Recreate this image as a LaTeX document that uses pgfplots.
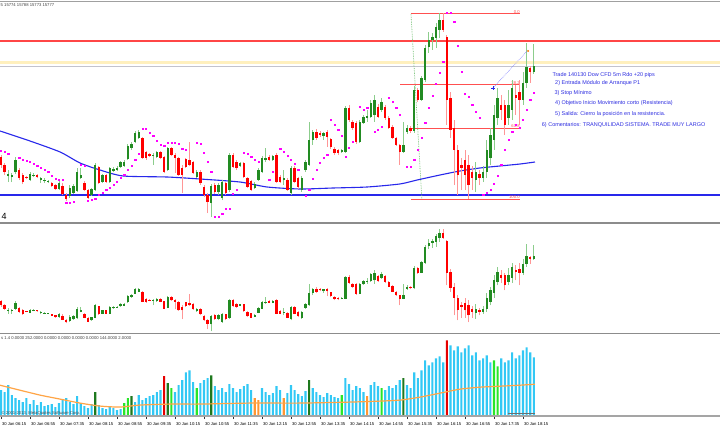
\documentclass[border=0pt]{standalone}
\usepackage{fontspec}
\setmainfont{Liberation Sans}
\usepackage{pgfplots}
\usepackage{pgfplotstable}
\pgfplotsset{compat=1.18}

\definecolor{bull}{RGB}{34,139,34}
\definecolor{bear}{RGB}{255,0,0}
\definecolor{bullwick}{RGB}{140,205,140}
\definecolor{bearwick}{RGB}{255,150,150}
\definecolor{sar}{RGB}{255,0,255}
\definecolor{mablue}{RGB}{40,40,235}
\definecolor{txtblue}{RGB}{45,45,225}
\definecolor{volblue}{RGB}{50,200,245}
\definecolor{vollime}{RGB}{40,230,40}
\definecolor{voldark}{RGB}{30,120,30}
\definecolor{volred}{RGB}{230,0,0}
\definecolor{volorange}{RGB}{255,150,50}
\definecolor{maorange}{RGB}{255,165,70}
\definecolor{fibred}{RGB}{255,80,80}
\definecolor{sepgray}{RGB}{140,140,140}

\newcommand\tinyfont{\fontsize{4.2}{4.6}\selectfont}
\newcommand\trfont{\fontsize{5.5}{6}\selectfont}

% bar index, open, high, low, close (Dow CFD, 5 min)
\pgfplotstableread{
i o h l c
0 15731.5 15732.5 15726 15727.5
1 15727.5 15728.5 15722.5 15724
2 15722 15725 15719 15723
3 15721.5 15723.5 15719 15722.5
4 15724 15731.5 15723 15730
5 15725 15726 15720 15721
6 15722.5 15723.5 15718 15719
7 15721.5 15722 15720.5 15721
8 15720 15724 15719.5 15723
9 15722 15723.5 15721.5 15722.5
10 15722.5 15723 15721 15721.5
11 15720 15721.5 15718.5 15721
12 15719.5 15721 15718.5 15720
13 15719 15720 15718.5 15719.5
14 15718.5 15719 15716.5 15717
15 15717.5 15718 15715 15715.5
16 15715.5 15719.5 15715 15718.5
17 15717 15718.5 15712.5 15713
18 15712.5 15713.5 15709.5 15710.5
19 15712 15717.5 15711 15716
20 15713.5 15718 15713 15717
21 15714.5 15726 15714 15724
22 15721 15726 15720.5 15722.5
23 15718.5 15719.5 15714.5 15715
24 15715 15715.5 15710.5 15711
25 15712.5 15716 15712 15715.5
26 15715 15728.5 15714.5 15727.5
27 15726.5 15727 15718 15718.5
28 15719 15723 15718.5 15722.5
29 15722.5 15723 15718.5 15719
30 15719 15726.5 15718.5 15726
31 15724.5 15726.5 15724 15725.5
32 15725 15727 15724.5 15726
33 15726.5 15729.5 15726 15729
34 15727 15730 15726.5 15729
35 15730.5 15738 15730 15737
36 15736 15739 15735 15738
37 15739 15744.5 15738.5 15743.5
38 15741 15745 15740.5 15744
39 15741 15741.5 15730.5 15731
40 15734 15734.5 15730 15731
41 15733 15733.5 15731.5 15732
42 15732 15733.5 15727.5 15732.5
43 15731.5 15734.5 15731 15734
44 15734 15734.5 15730.5 15731
45 15731.5 15732 15723.5 15724
46 15725 15736.5 15724.5 15736
47 15736 15736.5 15732 15732.5
48 15732.5 15733.5 15723.5 15731
49 15731 15731.5 15722 15722.5
50 15726 15727.5 15713.5 15722.5
51 15730.5 15731 15726 15726.5
52 15730 15739 15727 15727.5
53 15729 15729.5 15723 15723.5
54 15721.5 15725 15721 15724
55 15724 15725 15717.5 15718.5
56 15716.5 15717.5 15711.5 15712.5
57 15712.5 15713.5 15703.5 15709
58 15708.5 15718 15701.5 15717
59 15717.5 15718.5 15713 15714
60 15714 15718.5 15712.5 15717.5
61 15711 15720 15710 15719
62 15718.5 15719 15712.5 15713.5
63 15715 15733.5 15714 15732.5
64 15732.5 15733.5 15726 15726.5
65 15729 15730 15725 15726
66 15727 15729 15726.5 15728.5
67 15728.5 15729 15721 15721.5
68 15721 15721.5 15716 15716.5
69 15719.5 15720 15714.5 15715
70 15716 15719 15715.5 15718
71 15720 15726 15719.5 15725
72 15724 15732 15723.5 15731
73 15730 15736 15729 15731
74 15731.5 15732.5 15729.5 15730
75 15730 15732.5 15729.5 15732
76 15732.5 15733.5 15718.5 15719
77 15721.5 15722.5 15718.5 15719
78 15720 15725 15717.5 15721
79 15720 15721 15714.5 15715
80 15713.5 15727 15712.5 15726
81 15726 15727 15718.5 15719
82 15721 15721.5 15715.5 15716.5
83 15715 15722 15714 15721
84 15725 15730 15724 15729
85 15727.5 15749 15727 15740
86 15740 15745 15737.5 15744
87 15744 15745.5 15740 15741
88 15743.5 15744.5 15741.5 15742.5
89 15742 15744 15740 15743.5
90 15744 15745 15736.5 15741.5
91 15740.5 15741 15735.5 15736.5
92 15735.5 15736.5 15732.5 15733.5
93 15735 15735.5 15732.5 15733.5
94 15734 15735.5 15733.5 15735
95 15734 15757 15733.5 15756
96 15756 15757.5 15749 15750
97 15749 15750 15745 15746
98 15748.5 15749.5 15738 15739
99 15739 15750 15738.5 15749
100 15748.5 15752.5 15748 15751.5
101 15751 15755 15749 15752
102 15751.5 15760 15751 15758.5
103 15752.5 15762.5 15749 15760
104 15756.5 15758 15751 15751.5
105 15755 15761 15754 15759
106 15756.5 15757.5 15750 15751
107 15751 15752 15745.5 15746
108 15746.5 15747.5 15740.5 15741
109 15741 15741.5 15737 15737.5
110 15737.5 15738 15727.5 15734
111 15734 15749 15733.5 15737.5
112 15744 15747.5 15743 15746
113 15746 15747 15743.5 15744.5
114 15744.5 15767 15743.5 15765
115 15765 15766 15759 15760
116 15760 15772 15759.5 15771
117 15770 15787.5 15769 15786
118 15786.5 15794 15783.5 15790
119 15790 15793.5 15785 15791.5
120 15791 15798.5 15786 15796.5
121 15795 15803.5 15791 15800
122 15800 15803.5 15794 15795
123 15791.5 15792.5 15747.5 15760
124 15761 15764 15741 15745
125 15746 15750 15717.5 15735
126 15735 15737.5 15712.5 15722.5
127 15727.5 15731 15715 15726
128 15730 15735 15715 15722.5
129 15727.5 15732.5 15710.5 15717.5
130 15724 15727 15715 15721
131 15720 15729 15714 15724
132 15723 15725 15717.5 15721
133 15721 15727 15719 15724
134 15724 15740 15721 15735
135 15731 15746 15727.5 15742.5
136 15740 15757.5 15735 15752.5
137 15751 15766 15747.5 15761
138 15757.5 15762.5 15750 15755
139 15757.5 15760 15742.5 15747.5
140 15751 15765 15747.5 15757.5
141 15755 15770 15750 15766
142 15762.5 15767.5 15752.5 15761
143 15764 15770 15747.5 15760
144 15760 15774 15757.5 15768.5
145 15768.5 15788.5 15766 15776.5
146 15776 15777 15768.5 15774
147 15774 15788 15773 15777
}\candles

% parabolic SAR dots
\pgfplotstableread{
i p
0 15734.5
1 15734
2 15733
5 15731
6 15730
7 15729.5
8 15729
9 15728
10 15727
11 15726
12 15725
13 15724
14 15722
15 15720.5
16 15720
17 15720
18 15708.5
19 15708.5
20 15709
22 15727.5
23 15727
24 15709.5
25 15710
26 15710.5
27 15712.5
28 15713.5
29 15715
30 15716
31 15717.5
32 15719
33 15721
34 15722.5
35 15725
36 15727
37 15730
38 15733
39 15745.5
40 15745.5
41 15743.5
42 15742
43 15739.5
44 15737.5
45 15737
46 15738.5
47 15738.5
48 15738.5
49 15738
50 15735.5
51 15735
54 15738.5
55 15738
56 15733.5
57 15729
58 15724
59 15701.5
60 15701.5
61 15703
62 15705.5
63 15705.5
64 15713
65 15715
67 15733.5
68 15733
69 15731.5
70 15730
71 15729
74 15720
75 15724
77 15735.5
78 15734
79 15732
80 15730
81 15728
82 15725
84 15712
85 15715
86 15720.5
87 15725
88 15728.5
89 15731
90 15732.5
91 15750
92 15747.5
93 15745
94 15742
95 15731.5
96 15736
97 15739
99 15756.5
100 15755
101 15756
103 15744
104 15745
105 15746.5
107 15761
108 15759
109 15756
110 15752.5
112 15726.5
113 15726.5
114 15730
115 15735
116 15741
117 15748.5
118 15756
119 15762
120 15768
121 15773.5
122 15779
123 15803.5
124 15803.5
125 15799
126 15787
127 15774
128 15763
129 15761.5
130 15757.5
131 15754
132 15751
133 15712.5
134 15713.5
135 15715
136 15718
137 15722
138 15727.5
139 15735
140 15740
141 15744
142 15747.5
143 15746
144 15750
145 15755
146 15760
147 15763.5
}\sar

% moving average of price
\pgfplotstableread{
i p
-0.28 15744.5
8 15739.5
16.3 15734
21.8 15728.5
27.3 15725
33.7 15722
45.8 15721.5
54.9 15720.5
65.9 15719
73.4 15716.5
82.5 15715.5
91.6 15716
101 15716.5
110 15718
114.8 15720
121.1 15722.5
126.6 15724.5
132.1 15726
137.6 15727
143.2 15728
147.3 15729
}\ma

% volume: i, ticks, colour code (0 blue, 1 lime, 2 dark green, 3 red, 4 orange)
\pgfplotstableread{
i v k
0 75 0
1 69 0
2 90 0
3 60 0
4 51 0
5 45 0
6 39 0
7 51 0
8 33 0
9 45 0
10 30 0
11 39 0
12 27 0
13 30 0
14 33 0
15 24 0
16 36 0
17 45 0
18 51 0
19 39 0
20 33 0
21 57 0
22 36 0
23 27 0
24 21 0
25 33 0
26 69 2
27 30 0
28 21 0
29 18 0
30 24 0
31 21 0
32 15 0
33 18 0
34 36 1
35 51 1
36 57 2
37 39 0
38 60 0
39 45 0
40 51 0
41 57 0
42 60 0
43 69 0
44 75 0
45 117 3
46 96 2
47 81 1
48 69 0
49 90 0
50 105 0
51 129 0
52 135 0
53 99 0
54 81 1
55 96 0
56 105 0
57 111 0
58 120 2
59 87 0
60 75 0
61 81 0
62 69 0
63 93 0
64 81 0
65 69 0
66 78 0
67 87 0
68 93 0
69 75 0
70 51 4
71 45 4
72 81 0
73 69 0
74 60 0
75 66 0
76 87 0
77 75 0
78 51 4
79 66 0
80 90 0
81 75 0
82 63 0
83 57 0
84 72 0
85 105 2
86 81 0
87 69 0
88 60 0
89 54 0
90 66 0
91 60 0
92 54 0
93 51 0
94 60 1
95 111 0
96 93 0
97 75 0
98 87 0
99 81 0
100 69 0
101 57 4
102 90 0
103 99 0
104 87 0
105 81 1
106 75 0
107 87 0
108 81 0
109 90 0
110 105 0
111 111 2
112 90 0
113 81 0
114 129 0
115 111 0
116 135 0
117 165 0
118 150 0
119 159 0
120 171 0
121 177 0
122 159 0
123 225 3
124 210 0
125 195 0
126 207 0
127 189 0
128 201 0
129 210 0
130 180 0
131 189 0
132 165 0
133 171 0
134 180 0
135 159 0
136 165 1
137 147 1
138 171 0
139 159 0
140 165 0
141 189 0
142 171 0
143 180 0
144 195 0
145 204 0
146 189 0
147 174 0
}\vol

\pgfplotstableread{
i v
-0.28 90
5.2 75
10.8 60
16.3 48
21.8 36
27.3 27
32.8 24
38.3 30
46.6 33
54.9 33
68.7 36
82.5 36
96.3 39
104.6 42
110.1 45
115.6 54
121.1 66
126.6 78
132.1 84
137.7 87
143.2 90
147.3 93
}\volma

\newcommand{\candleplots}{%
\addplot[draw=none, mark=none, restrict expr to domain={\thisrow{c}-\thisrow{o}}{0:1000},
  error bars/.cd, y dir=plus, y explicit, error mark=none,
  error bar style={draw=bullwick, line width=0.9bp}]
  table[x=i, y=l, y error expr=\thisrow{h}-\thisrow{l}] {\candles};
\addplot[draw=none, mark=none, restrict expr to domain={\thisrow{c}-\thisrow{o}}{-1000:-0.01},
  error bars/.cd, y dir=plus, y explicit, error mark=none,
  error bar style={draw=bearwick, line width=0.9bp}]
  table[x=i, y=l, y error expr=\thisrow{h}-\thisrow{l}] {\candles};
\addplot[draw=none, mark=none, restrict expr to domain={\thisrow{c}-\thisrow{o}}{0:1000},
  error bars/.cd, y dir=plus, y explicit, error mark=none,
  error bar style={draw=bull, line width=2.3bp}]
  table[x=i, y=o, y error expr={max(\thisrow{c}-\thisrow{o},0.4)}] {\candles};
\addplot[draw=none, mark=none, restrict expr to domain={\thisrow{c}-\thisrow{o}}{-1000:-0.01},
  error bars/.cd, y dir=plus, y explicit, error mark=none,
  error bar style={draw=bear, line width=2.3bp}]
  table[x=i, y=c, y error expr={max(\thisrow{o}-\thisrow{c},0.4)}] {\candles};
}

\pgfplotsset{chartbase/.style={scale only axis, width=720bp, xmin=-0.276, xmax=198.345,
  anchor=south west, hide axis, clip=true}}

\begin{document}
\begin{tikzpicture}[x=1bp,y=1bp]
\path[use as bounding box] (0,0) rectangle (720,426);
\fill[white] (0,0) rectangle (720,426);

% ---------- main price panel ----------
\begin{axis}[chartbase, height=220bp, at={(0bp,203bp)}, ymin=15698.5, ymax=15808.5]
\addplot[color={rgb,255:red,255;green,240;blue,190}, line width=2.6bp] coordinates {(-1,15778.75) (200,15778.75)};
\addplot[color={rgb,255:red,195;green,195;blue,205}, line width=0.8bp] coordinates {(-1,15777) (200,15777)};
\addplot[color={rgb,255:red,255;green,70;blue,70}, line width=1.3bp] coordinates {(-1,15789.5) (200,15789.5)};
\addplot[color={rgb,255:red,170;green,170;blue,255}, line width=2.6bp] coordinates {(-1,15712.5) (200,15712.5)};
\addplot[mablue, line width=1.1bp] coordinates {(-1,15712.5) (200,15712.5)};
% Fibonacci levels
\addplot[fibred, line width=1bp] coordinates {(113.1,15803) (143.2,15803)};
\addplot[fibred, line width=1bp] coordinates {(110.1,15767.7) (143.2,15767.7)};
\addplot[fibred, line width=1bp] coordinates {(113.1,15745.8) (143.2,15745.8)};
\addplot[fibred, line width=1bp] coordinates {(113.1,15710.5) (143.2,15710.5)};
\addplot[color={rgb,255:red,110;green,190;blue,110}, line width=0.7bp, densely dotted] coordinates {(113.1,15803) (116.1,15710.5)};
\node[anchor=south east, inner sep=0.3bp, text=fibred, font=\tinyfont] at (axis cs:143.2,15803) {0.0};
\node[anchor=south east, inner sep=0.3bp, text=fibred, font=\tinyfont] at (axis cs:143.2,15767.7) {38.2};
\node[anchor=south east, inner sep=0.3bp, text=fibred, font=\tinyfont] at (axis cs:143.2,15745.8) {61.8};
\node[anchor=south east, inner sep=0.3bp, text=fibred, font=\tinyfont] at (axis cs:143.2,15710.5) {100.0};
% moving average
\addplot[mablue, line width=1.1bp, smooth, tension=0.4] table[x=i, y=p] {\ma};
\candleplots
% SAR
\addplot[only marks, mark=square*, mark size=0.6bp, color=sar] table[x=i, y=p] {\sar};
% trade line
\addplot[color={rgb,255:red,120;green,120;blue,255}, line width=0.6bp, densely dotted] coordinates {(135.7,15766) (145.4,15785)};
\addplot[only marks, mark=+, mark size=1.6bp, color=mablue, line width=0.7bp] coordinates {(135.7,15766)};
\addplot[only marks, mark=*, mark size=0.8bp, color=orange] coordinates {(145.4,15784.5)};
\end{axis}

% ---------- second price panel ----------
\begin{axis}[chartbase, height=110bp, at={(0bp,92.5bp)}, ymin=15699.5, ymax=15809]
\candleplots
\end{axis}

% ---------- volume panel ----------
\begin{axis}[scale only axis, width=720bp, height=82.5bp, at={(0bp,10bp)}, anchor=south west,
  xmin=-0.276, xmax=198.345, ymin=-3, ymax=246, axis line style={draw=none}, ytick=\empty,
  xtick={0,8,...,144},
  xticklabels={30 Jan 06:15,30 Jan 06:55,30 Jan 07:35,30 Jan 08:15,30 Jan 08:55,30 Jan 09:35,30 Jan 10:15,30 Jan 10:55,30 Jan 11:35,30 Jan 12:15,30 Jan 12:55,30 Jan 13:35,30 Jan 14:15,30 Jan 14:55,30 Jan 15:35,30 Jan 16:15,30 Jan 16:55,30 Jan 17:35,30 Jan 18:15},
  xtick pos=bottom, tick align=outside, major tick length=3bp,
  tick style={draw=black!80, line width=0.4bp},
  x tick label style={font=\tinyfont, anchor=north west, inner sep=0pt, xshift=0.8bp, yshift=-3.2bp},
  clip=true]
\addplot[ybar, bar width=2.1bp, bar shift=0pt, fill=volblue, draw=none, restrict expr to domain={\thisrow{k}}{-0.5:0.5}] table[x=i, y=v] {\vol};
\addplot[ybar, bar width=2.1bp, bar shift=0pt, fill=vollime, draw=none, restrict expr to domain={\thisrow{k}}{0.5:1.5}] table[x=i, y=v] {\vol};
\addplot[ybar, bar width=2.1bp, bar shift=0pt, fill=voldark, draw=none, restrict expr to domain={\thisrow{k}}{1.5:2.5}] table[x=i, y=v] {\vol};
\addplot[ybar, bar width=2.1bp, bar shift=0pt, fill=volred, draw=none, restrict expr to domain={\thisrow{k}}{2.5:3.5}] table[x=i, y=v] {\vol};
\addplot[ybar, bar width=2.1bp, bar shift=0pt, fill=volorange, draw=none, restrict expr to domain={\thisrow{k}}{3.5:4.5}] table[x=i, y=v] {\vol};
\addplot[maorange, line width=1.2bp, smooth, tension=0.4] table[x=i, y=v] {\volma};
\end{axis}

% separators
\draw[color={rgb,255:red,160;green,160;blue,160}, line width=1.3bp] (0,424.6) -- (720,424.6);
\draw[sepgray, line width=1.6bp] (0,203) -- (720,203);
\draw[sepgray, line width=1.6bp] (0,92.5) -- (720,92.5);
\draw[color={rgb,255:red,165;green,165;blue,165}, line width=1.6bp] (0,10) -- (720,10);
\draw[color={rgb,255:red,110;green,110;blue,110}, line width=0.6bp] (508,13) -- (535,13);

% texts
\node[anchor=west, inner sep=0pt, font=\tinyfont, text=black!75] at (0.5,421) {5 15774 15788 15773 15777};
\node[anchor=west, inner sep=0pt, font=\fontsize{9}{9}\selectfont] at (1.5,210) {4};
\node[anchor=west, inner sep=0pt, font=\tinyfont, text=black!75] at (1,88) {s 1.4 0.0000 252.0000 0.0000 0.0000 0.0000 0.0000 144.0000 2.0000};
\node[anchor=west, inner sep=0pt, font=\tinyfont, text=black!70] at (1.5,12.2) {\textcopyright{} 2001-2013, MetaQuotes Software Corp.};

\node[anchor=west, inner sep=0pt, font=\trfont, text=txtblue] at (552.3,351.3) {Trade 140130 Dow CFD 5m Rdo +20 pips};
\node[anchor=west, inner sep=0pt, font=\trfont, text=txtblue] at (555,342.7) {2) Entrada Módulo de Arranque P1};
\node[anchor=west, inner sep=0pt, font=\trfont, text=txtblue] at (554.3,332.7) {3) Stop Mínimo};
\node[anchor=west, inner sep=0pt, font=\trfont, text=txtblue] at (555,322.7) {4) Objetivo Inicio Movimiento corto (Resistencia)};
\node[anchor=west, inner sep=0pt, font=\trfont, text=txtblue] at (555,312) {5) Salida: Cierro la posición en la resistencia.};
\node[anchor=west, inner sep=0pt, font=\trfont, text=txtblue] at (541.7,301) {6) Comentarios: TRANQUILIDAD SISTEMA. TRADE MUY LARGO};
\end{tikzpicture}
\end{document}
